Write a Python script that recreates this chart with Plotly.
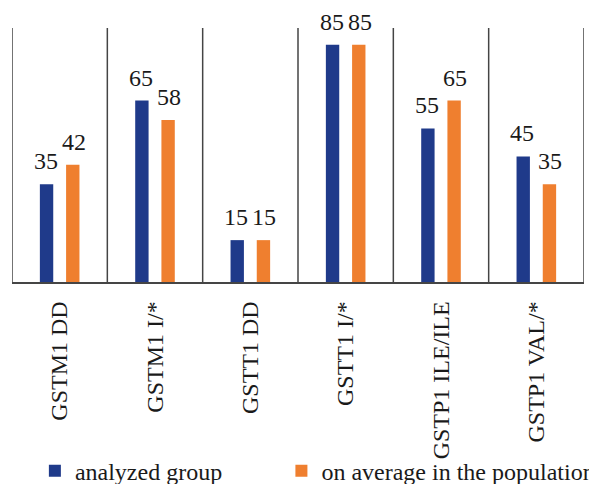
import plotly.graph_objects as go

categories = ["GSTM1 DD", "GSTM1 I/*", "GSTT1 DD", "GSTT1 I/*", "GSTP1 ILE/ILE", "GSTP1 VAL/*"]
analyzed_group = [35, 65, 15, 85, 55, 45]
population_avg = [42, 58, 15, 85, 65, 35]
series_names = ["analyzed group", "on average in the population"]

BLUE = "#1f3a8a"
ORANGE = "#ef7f2f"
FONT = "Liberation Serif, Times New Roman, Times, serif"
FS = 24
TXT = "#1a1a1a"

fig = go.Figure()
fig.add_trace(go.Bar(x=categories, y=analyzed_group, name=series_names[0],
                     marker=dict(color=BLUE, line=dict(width=0)), legend="legend"))
fig.add_trace(go.Bar(x=categories, y=population_avg, name=series_names[1],
                     marker=dict(color=ORANGE, line=dict(width=0)), legend="legend2"))

# value labels above bars
slot = (1 - 0.45) / 2
for vals, off, xs in ((analyzed_group, -slot / 2, -1), (population_avg, slot / 2, 1)):
    for i, v in enumerate(vals):
        fig.add_annotation(x=i + off, y=v, text=str(v), showarrow=False,
                           yanchor="bottom", yshift=8, xshift=xs,
                           font=dict(family=FONT, size=FS, color=TXT))

# group separators
for i in range(len(categories) + 1):
    fig.add_shape(type="line", xref="x", yref="paper", x0=i - 0.5, x1=i - 0.5,
                  y0=0, y1=1, line=dict(color="#454545", width=1.5))

leg_common = dict(orientation="h", xanchor="left", y=-0.745, yanchor="middle",
                  font=dict(family=FONT, size=FS, color=TXT),
                  bgcolor="rgba(0,0,0,0)", itemsizing="constant")

# page body has an 8px margin, so the figure is 8px smaller and margins shifted
fig.update_layout(
    width=589, height=476,
    margin=dict(l=4, r=13, t=20, b=202, autoexpand=False),
    plot_bgcolor="white", paper_bgcolor="white",
    barmode="group", bargap=0.45, bargroupgap=0.49,
    font=dict(family=FONT, size=FS, color=TXT),
    showlegend=True,
    legend=dict(x=0.04, **leg_common),
    legend2=dict(x=0.471, **leg_common),
)
fig.update_xaxes(type="category", range=[-0.5, len(categories) - 0.5],
                 tickangle=-90, ticks="", showgrid=False, automargin=False,
                 showline=True, linecolor="#454545", linewidth=1.5,
                 ticklabelstandoff=8,
                 tickfont=dict(family=FONT, size=FS, color=TXT))
fig.update_yaxes(range=[0, 91], visible=False, showgrid=False, zeroline=False,
                 automargin=False)

fig.write_html("out.html")
